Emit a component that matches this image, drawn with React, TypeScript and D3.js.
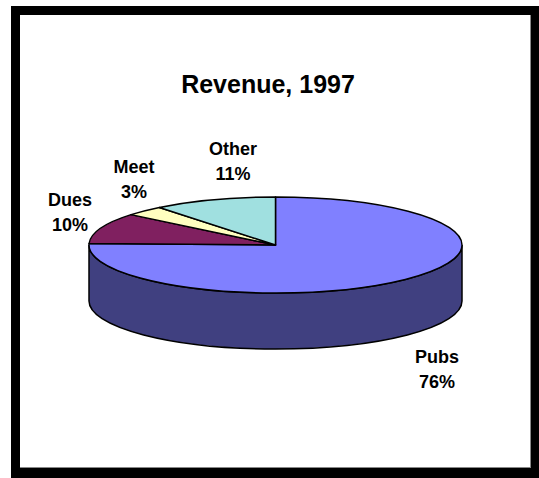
import React from "react";
import * as d3 from "d3";

const categories = ["Pubs", "Dues", "Meet", "Other"];
const values = [75.5, 10.4, 3.4, 10.7];
const percentLabels = ["76%", "10%", "3%", "11%"];
const topColors = ["#8080FF", "#802060", "#FFFFC0", "#A0E0E0"];
const sideColor = "#404080";
const labelAnchors: [number, number][] = [
  [437, 363],
  [70, 206],
  [134, 173],
  [233, 155],
];

const W = 539;
const H = 478;
const cx = 275.5;
const cy = 245;
const rx = 186.5;
const ry = 48;
const depth = 56;

export default function App() {
  const pie = d3
    .pie<number>()
    .sort(null)
    .value((d) => d);
  const arcs = pie(values);
  const arc = d3.arc<d3.PieArcDatum<number>>().innerRadius(0).outerRadius(rx);

  const sidePath =
    `M${cx - rx},${cy} L${cx - rx},${cy + depth} ` +
    `A${rx},${ry} 0 0 0 ${cx + rx},${cy + depth} ` +
    `L${cx + rx},${cy} A${rx},${ry} 0 0 1 ${cx - rx},${cy} Z`;

  const font = "Arial, 'Liberation Sans', Helvetica, sans-serif";

  return (
    <svg
      width={W}
      height={H}
      style={{ position: "absolute", left: 0, top: 0, background: "#fff" }}
    >
      <rect x={11} y={6} width={W - 11} height={H - 6} fill="#000" />
      <rect x={20} y={15} width={511} height={453} fill="#fff" />
      <line x1={20} y1={467.5} x2={531} y2={467.5} stroke="#888" strokeWidth={1} />
      <line x1={530.5} y1={15} x2={530.5} y2={468} stroke="#888" strokeWidth={1} />

      <text
        x={268}
        y={93}
        textAnchor="middle"
        fontFamily={font}
        fontWeight="bold"
        fontSize={25}
        fill="#000"
      >
        Revenue, 1997
      </text>

      <path d={sidePath} fill={sideColor} stroke="#000" strokeWidth={1.5} />

      <g transform={`translate(${cx},${cy}) scale(1,${ry / rx})`}>
        {arcs.map((a, i) => (
          <path
            key={categories[i]}
            d={arc(a) || ""}
            fill={topColors[i]}
            stroke="#000"
            strokeWidth={1.5}
            vectorEffect="non-scaling-stroke"
            strokeLinejoin="round"
          />
        ))}
      </g>

      {categories.map((c, i) => (
        <text
          key={c}
          x={labelAnchors[i][0]}
          y={labelAnchors[i][1]}
          textAnchor="middle"
          fontFamily={font}
          fontWeight="bold"
          fontSize={18}
          fill="#000"
        >
          <tspan x={labelAnchors[i][0]}>{c}</tspan>
          <tspan x={labelAnchors[i][0]} dy={24.5}>
            {percentLabels[i]}
          </tspan>
        </text>
      ))}
    </svg>
  );
}
